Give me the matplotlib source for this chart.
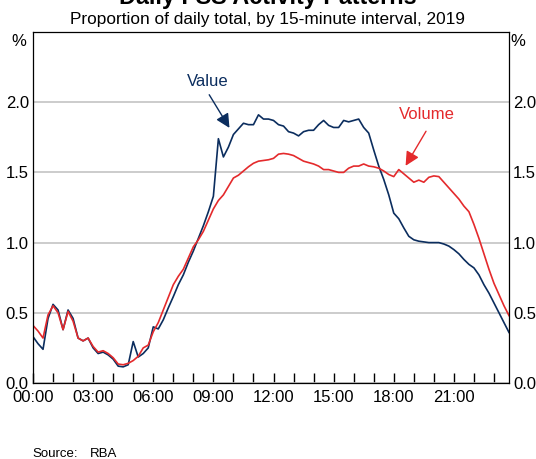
import numpy as np
import matplotlib
matplotlib.use('Agg')
import matplotlib.pyplot as plt

# share of daily total per 15-minute interval (%), 00:00 .. 23:45
value = [0.33, 0.28, 0.24, 0.46, 0.56, 0.52, 0.38, 0.52, 0.46, 0.32, 0.30, 0.32,
         0.25, 0.21, 0.22, 0.20, 0.17, 0.12, 0.115, 0.13, 0.295, 0.185, 0.21, 0.25,
         0.40, 0.385, 0.45, 0.535, 0.615, 0.70, 0.77, 0.86, 0.94, 1.03, 1.12, 1.22,
         1.33, 1.74, 1.61, 1.68, 1.77, 1.81, 1.85, 1.84, 1.84, 1.91, 1.88, 1.88,
         1.87, 1.84, 1.83, 1.79, 1.78, 1.76, 1.79, 1.80, 1.80, 1.84, 1.87, 1.835,
         1.82, 1.82, 1.87, 1.86, 1.87, 1.88, 1.82, 1.78, 1.66, 1.545, 1.45, 1.34,
         1.21, 1.17, 1.105, 1.045, 1.02, 1.01, 1.005, 1.00, 1.00, 1.00, 0.99, 0.975,
         0.95, 0.92, 0.88, 0.845, 0.82, 0.77, 0.70, 0.64, 0.57, 0.50, 0.43, 0.36]
volume = [0.41, 0.37, 0.32, 0.485, 0.55, 0.50, 0.38, 0.51, 0.44, 0.32, 0.30, 0.32,
          0.26, 0.22, 0.23, 0.21, 0.18, 0.135, 0.13, 0.14, 0.16, 0.19, 0.25, 0.27,
          0.365, 0.43, 0.52, 0.61, 0.70, 0.76, 0.81, 0.89, 0.97, 1.02, 1.08, 1.16,
          1.24, 1.30, 1.34, 1.40, 1.46, 1.48, 1.51, 1.54, 1.565, 1.58, 1.585, 1.59,
          1.60, 1.63, 1.635, 1.63, 1.62, 1.60, 1.58, 1.57, 1.56, 1.545, 1.52, 1.52,
          1.51, 1.50, 1.50, 1.53, 1.545, 1.545, 1.56, 1.545, 1.54, 1.53, 1.51, 1.485,
          1.47, 1.52, 1.49, 1.46, 1.43, 1.445, 1.43, 1.465, 1.475, 1.47, 1.43, 1.39,
          1.35, 1.31, 1.26, 1.22, 1.13, 1.03, 0.92, 0.81, 0.71, 0.63, 0.55, 0.48]
xlabels = ['00:00', '03:00', '06:00', '09:00', '12:00', '15:00', '18:00', '21:00']
ylabels = ['0.0', '0.5', '1.0', '1.5', '2.0']

NAVY = '#0b2d5e'
RED = '#e42a2c'

plt.rcParams['font.family'] = ['Liberation Sans', 'DejaVu Sans']


def main():
    hours = np.arange(len(value)) * 0.25

    fig = plt.figure(figsize=(5.36, 4.59), dpi=100)
    ax = fig.add_axes([33/536, 1-383/459, 476/536, 351/459])

    ax.plot(hours, value, color=NAVY, lw=1.2)
    ax.plot(hours, volume, color=RED, lw=1.2)

    ax.set_xlim(0, 23.75)
    ax.set_ylim(0, 2.5)
    yt = [float(s) for s in ylabels]
    ax.set_yticks(yt)
    ax.set_yticklabels(ylabels)
    ax.yaxis.grid(True, color='#c4c4c4', lw=1.2)
    ax.set_axisbelow(True)
    ax.tick_params(axis='y', length=0, labelsize=12, pad=3,
                   labelleft=True, labelright=True)

    ax.set_xticks(np.arange(0, 24, 3))
    ax.set_xticklabels(xlabels)
    ax.set_xticks(np.arange(0, 24, 1), minor=True)
    ax.tick_params(axis='x', which='both', direction='in', length=7, width=1,
                   labelsize=12, pad=5)
    for s in ax.spines.values():
        s.set_linewidth(0.9)

    # annotations
    ax.text(8.7, 2.15, 'Value', color=NAVY, fontsize=12, ha='center', va='center')
    ax.annotate('', xy=(9.875, 1.80), xytext=(8.72, 2.07),
                arrowprops=dict(arrowstyle='-|>', color=NAVY, lw=1, mutation_scale=21))
    ax.text(19.65, 1.91, 'Volume', color=RED, fontsize=12, ha='center', va='center')
    ax.annotate('', xy=(18.52, 1.53), xytext=(19.68, 1.81),
                arrowprops=dict(arrowstyle='-|>', color=RED, lw=1, mutation_scale=21))

    fig.text(19/536, 1-41/459, '%', fontsize=12, ha='center', va='center')
    fig.text(518/536, 1-41/459, '%', fontsize=12, ha='center', va='center')

    # title sits mostly above the canvas, as in the original export
    fig.text(0.5, 1-4/459, 'Daily FSS Activity Patterns', fontsize=16.8,
             fontweight='bold', ha='center', va='baseline')
    fig.text(0.5, 1-24/459, 'Proportion of daily total, by 15-minute interval, 2019',
             fontsize=12.4, ha='center', va='baseline')

    fig.text(32/536, 1-457/459, 'Source:', fontsize=9.5, ha='left', va='baseline')
    fig.text(90/536, 1-457/459, 'RBA', fontsize=9.5, ha='left', va='baseline')

    fig.savefig('out.png', dpi=100)


if __name__ == '__main__':
    main()
